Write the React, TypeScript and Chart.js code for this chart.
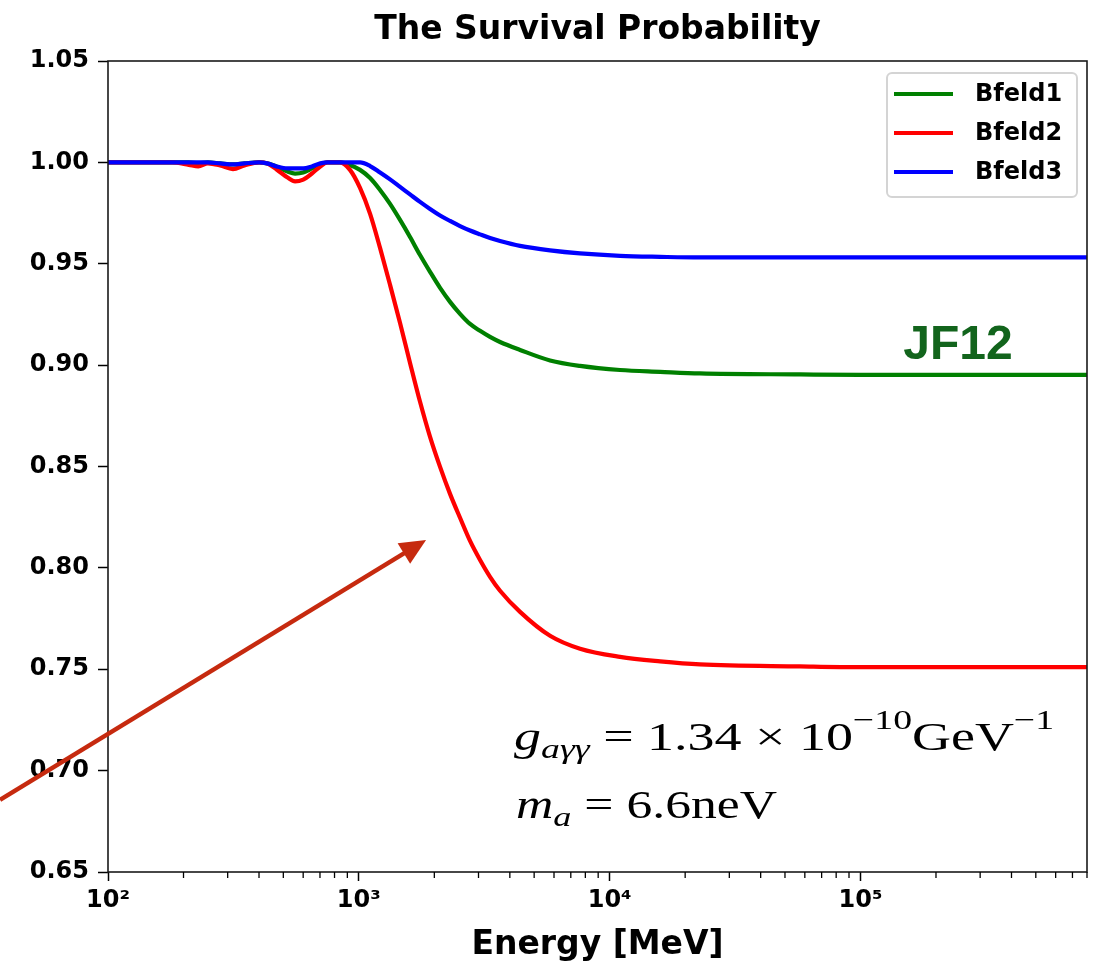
import React, { useEffect, useRef } from 'react';
import { Chart, registerables } from 'chart.js';

Chart.register(...registerables);

// ---------- data ----------
const energyMeV = [
  100, 180, 210, 229, 250, 280, 315, 350, 400, 431,
  470, 520, 557, 600, 650, 702, 750,
  841, 922, 1011, 1109, 1215, 1332, 1460, 1600, 1754, 1923,
  2108, 2310, 2532, 2776, 3043, 3335, 3656, 4393, 5786, 7621,
  11000, 15900, 22900, 57400, 100000, 200000, 400000, 800000,
];

const bfeld1 = [
  1.0, 1.0, 1.0, 0.9995, 1.0, 0.9995, 0.999, 0.9995, 1.0, 0.9995,
  0.998, 0.9955, 0.9945, 0.995, 0.997, 0.999, 1.0,
  1.0, 0.9987, 0.9963, 0.9923, 0.9864, 0.9795, 0.9716, 0.9632, 0.9543, 0.946,
  0.9381, 0.9312, 0.9253, 0.9203, 0.9169, 0.9139, 0.9114, 0.9075, 0.9023, 0.8996,
  0.8976, 0.8967, 0.8959, 0.8954, 0.8952, 0.8952, 0.8952, 0.8952,
];

const bfeld2 = [
  1.0, 1.0, 0.9988, 0.998, 0.9995, 0.9985, 0.9967, 0.9985, 1.0, 0.9995,
  0.9965, 0.9925, 0.9906, 0.9915, 0.9945, 0.998, 1.0,
  1.0, 0.9963, 0.9874, 0.9746, 0.9578, 0.9396, 0.9208, 0.9011, 0.8819, 0.8646,
  0.8498, 0.8365, 0.8247, 0.8133, 0.8039, 0.7956, 0.7887, 0.7783, 0.7665, 0.7601,
  0.7561, 0.7539, 0.7524, 0.7514, 0.751, 0.751, 0.751, 0.751,
];

const bfeld3 = [
  1.0, 1.0, 1.0, 1.0, 1.0, 0.9995, 0.999, 0.9995, 1.0, 0.9995,
  0.998, 0.997, 0.997, 0.997, 0.998, 0.9995, 1.0,
  1.0, 1.0, 1.0, 0.9982, 0.995, 0.9916, 0.9879, 0.9842, 0.9805, 0.977,
  0.9738, 0.9711, 0.9686, 0.9664, 0.9645, 0.9627, 0.9612, 0.9588, 0.9566, 0.9551,
  0.9539, 0.9534, 0.9531, 0.9531, 0.9531, 0.9531, 0.9531, 0.9531,
];

const seriesLabels = ['Bfeld1', 'Bfeld2', 'Bfeld3'];
const xMajorTicks = [100, 1000, 10000, 100000];
const xTickLabels = ['10²', '10³', '10⁴', '10⁵'];
const xMinorTicks: number[] = [];
for (const dec of [100, 1000, 10000, 100000]) {
  for (const m of [2, 3, 4, 5, 6, 7, 8, 9]) xMinorTicks.push(m * dec);
}

// annotation anchors (data coordinates: energy in MeV, probability)
const arrowFrom = { e: 37.1, p: 0.6856 };
const arrowTo = { e: 1854, p: 0.8138 };
const jf12At = { e: 148000, p: 0.9031 };
const mathLine1 = { e0: 4157, e1: 592000, p: 0.7103 };
const mathLine2 = { e0: 4235, e1: 46500, p: 0.6767 };

const COLORS = ['#008000', '#ff0000', '#0000ff'];
const TICK_FONT = { family: '"DejaVu Sans", sans-serif', size: 24, weight: 'bold' as const };

type Run = { t: string; italic?: boolean; size: number; dy: number };

function drawRuns(ctx: CanvasRenderingContext2D, runs: Run[], x0: number, x1: number, baseline: number) {
  let w = 0;
  const widths: number[] = [];
  for (const r of runs) {
    ctx.font = `${r.italic ? 'italic ' : ''}${r.size}px "Liberation Serif", serif`;
    const mw = ctx.measureText(r.t).width;
    widths.push(mw);
    w += mw;
  }
  const sx = (x1 - x0) / w;
  ctx.save();
  ctx.translate(x0, baseline);
  ctx.scale(sx, 1);
  ctx.fillStyle = '#000';
  ctx.textBaseline = 'alphabetic';
  ctx.textAlign = 'left';
  let cx = 0;
  runs.forEach((r, i) => {
    ctx.font = `${r.italic ? 'italic ' : ''}${r.size}px "Liberation Serif", serif`;
    ctx.fillText(r.t, cx, r.dy);
    cx += widths[i];
  });
  ctx.restore();
}

const overlayPlugin = {
  id: 'overlay',
  afterDraw(chart: any) {
    const { ctx, chartArea: a, scales } = chart;
    const x = scales.x;
    const y = scales.y;
    ctx.save();

    // frame
    ctx.strokeStyle = '#1a1a1a';
    ctx.lineWidth = 1.6;
    ctx.strokeRect(a.left, a.top, a.right - a.left, a.bottom - a.top);

    // minor ticks on the log axis
    ctx.lineWidth = 1.3;
    ctx.strokeStyle = '#000';
    for (const v of xMinorTicks) {
      const px = x.getPixelForValue(v);
      if (px < a.left - 0.5 || px > a.right + 0.5) continue;
      ctx.beginPath();
      ctx.moveTo(px, a.bottom);
      ctx.lineTo(px, a.bottom + 6);
      ctx.stroke();
    }

    // legend
    const bw = 190;
    const bh = 124;
    const bx = a.right - 10 - bw;
    const by = a.top + 12;
    ctx.fillStyle = 'rgba(255,255,255,0.85)';
    ctx.strokeStyle = '#d4d4d4';
    ctx.lineWidth = 2;
    ctx.beginPath();
    (ctx as any).roundRect(bx, by, bw, bh, 5);
    ctx.fill();
    ctx.stroke();
    chart.data.datasets.forEach((ds: any, i: number) => {
      const ry = by + 21 + i * 39;
      ctx.strokeStyle = ds.borderColor;
      ctx.lineWidth = 4;
      ctx.beginPath();
      ctx.moveTo(bx + 7, ry);
      ctx.lineTo(bx + 66, ry);
      ctx.stroke();
      ctx.fillStyle = '#000';
      ctx.font = 'bold 24px "DejaVu Sans", sans-serif';
      ctx.textBaseline = 'middle';
      ctx.textAlign = 'left';
      ctx.fillText(ds.label, bx + 88, ry + 1);
    });

    // JF12 label
    ctx.fillStyle = '#12641c';
    ctx.font = 'bold 48px "Liberation Sans", Arial, sans-serif';
    ctx.textBaseline = 'alphabetic';
    ctx.textAlign = 'left';
    ctx.fillText('JF12', x.getPixelForValue(jf12At.e), y.getPixelForValue(jf12At.p));

    // math text
    drawRuns(
      ctx,
      [
        { t: 'g', italic: true, size: 40, dy: 0 },
        { t: 'aγγ', italic: true, size: 28, dy: 8 },
        { t: ' = 1.34 × 10', size: 40, dy: 0 },
        { t: '−10', size: 28, dy: -21 },
        { t: 'GeV', size: 40, dy: 0 },
        { t: '−1', size: 28, dy: -21 },
      ],
      x.getPixelForValue(mathLine1.e0),
      x.getPixelForValue(mathLine1.e1),
      y.getPixelForValue(mathLine1.p),
    );
    drawRuns(
      ctx,
      [
        { t: 'm', italic: true, size: 40, dy: 0 },
        { t: 'a', italic: true, size: 28, dy: 8 },
        { t: ' = 6.6neV', size: 40, dy: 0 },
      ],
      x.getPixelForValue(mathLine2.e0),
      x.getPixelForValue(mathLine2.e1),
      y.getPixelForValue(mathLine2.p),
    );

    // arrow
    const x0 = x.getPixelForValue(arrowFrom.e);
    const y0 = y.getPixelForValue(arrowFrom.p);
    const x1 = x.getPixelForValue(arrowTo.e);
    const y1 = y.getPixelForValue(arrowTo.p);
    const ang = Math.atan2(y1 - y0, x1 - x0);
    const headLen = 26;
    const headHalf = 12;
    const bxh = x1 - headLen * Math.cos(ang);
    const byh = y1 - headLen * Math.sin(ang);
    ctx.strokeStyle = '#c62a0f';
    ctx.fillStyle = '#c62a0f';
    ctx.lineWidth = 4.5;
    ctx.beginPath();
    ctx.moveTo(x0, y0);
    ctx.lineTo(bxh + 2 * Math.cos(ang), byh + 2 * Math.sin(ang));
    ctx.stroke();
    ctx.beginPath();
    ctx.moveTo(x1, y1);
    ctx.lineTo(bxh - headHalf * Math.sin(ang), byh + headHalf * Math.cos(ang));
    ctx.lineTo(bxh + headHalf * Math.sin(ang), byh - headHalf * Math.cos(ang));
    ctx.closePath();
    ctx.fill();

    ctx.restore();
  },
};

export default function App() {
  const canvasRef = useRef<HTMLCanvasElement | null>(null);

  useEffect(() => {
    if (!canvasRef.current) return;
    const seriesValues = [bfeld1, bfeld2, bfeld3];
    const chart = new Chart(canvasRef.current, {
      type: 'line',
      data: {
        datasets: seriesValues.map((vals, i) => ({
          label: seriesLabels[i],
          data: energyMeV.map((e, j) => ({ x: e, y: vals[j] })),
          borderColor: COLORS[i],
          backgroundColor: COLORS[i],
          borderWidth: 4.2,
          pointRadius: 0,
          fill: false,
          cubicInterpolationMode: 'monotone' as const,
          order: 2 - i,
        })),
      },
      options: {
        responsive: false,
        animation: false,
        events: [],
        layout: { padding: { left: 0, right: 20, top: 0, bottom: 0 } },
        plugins: {
          legend: { display: false },
          tooltip: { enabled: false },
          title: { display: false },
        },
        scales: {
          x: {
            type: 'logarithmic',
            min: 100,
            max: 800000,
            afterBuildTicks: (s: any) => {
              s.ticks = xMajorTicks.map((v) => ({ value: v, major: true }));
            },
            afterFit: (s: any) => {
              s.height = 95;
            },
            ticks: {
              autoSkip: false,
              maxRotation: 0,
              padding: 5,
              color: '#000',
              font: TICK_FONT,
              callback: (v: any) => {
                const i = xMajorTicks.indexOf(Number(v));
                return i >= 0 ? xTickLabels[i] : '';
              },
            },
            grid: {
              drawOnChartArea: false,
              drawTicks: true,
              tickLength: 9,
              tickWidth: 1.5,
              tickColor: '#000',
            },
            border: { display: false },
            title: {
              display: true,
              text: 'Energy [MeV]',
              color: '#000',
              font: { family: '"DejaVu Sans", sans-serif', size: 33, weight: 'bold' },
              padding: { top: 0, bottom: 2 },
            },
          },
          xTop: {
            type: 'logarithmic',
            position: 'top',
            min: 100,
            max: 800000,
            afterFit: (s: any) => {
              s.height = 61;
            },
            ticks: { display: false },
            grid: { display: false },
            border: { display: false },
            title: {
              display: true,
              text: 'The Survival Probability',
              color: '#000',
              font: { family: '"DejaVu Sans", sans-serif', size: 33, weight: 'bold' },
              padding: { top: 11, bottom: 0 },
            },
          },
          y: {
            type: 'linear',
            min: 0.65,
            max: 1.05,
            afterFit: (s: any) => {
              s.width = 108;
            },
            ticks: {
              stepSize: 0.05,
              padding: 9,
              color: '#000',
              font: TICK_FONT,
              callback: (v: any) => Number(v).toFixed(2),
            },
            grid: {
              drawOnChartArea: false,
              drawTicks: true,
              tickLength: 10,
              tickWidth: 1.5,
              tickColor: '#000',
            },
            border: { display: false },
          },
        },
      },
      plugins: [overlayPlugin],
    });
    return () => chart.destroy();
  }, []);

  return (
    <div style={{ position: 'absolute', left: 0, top: 0, width: 1107, height: 967, background: '#fff' }}>
      <canvas ref={canvasRef} width={1107} height={967} style={{ display: 'block' }} />
    </div>
  );
}
